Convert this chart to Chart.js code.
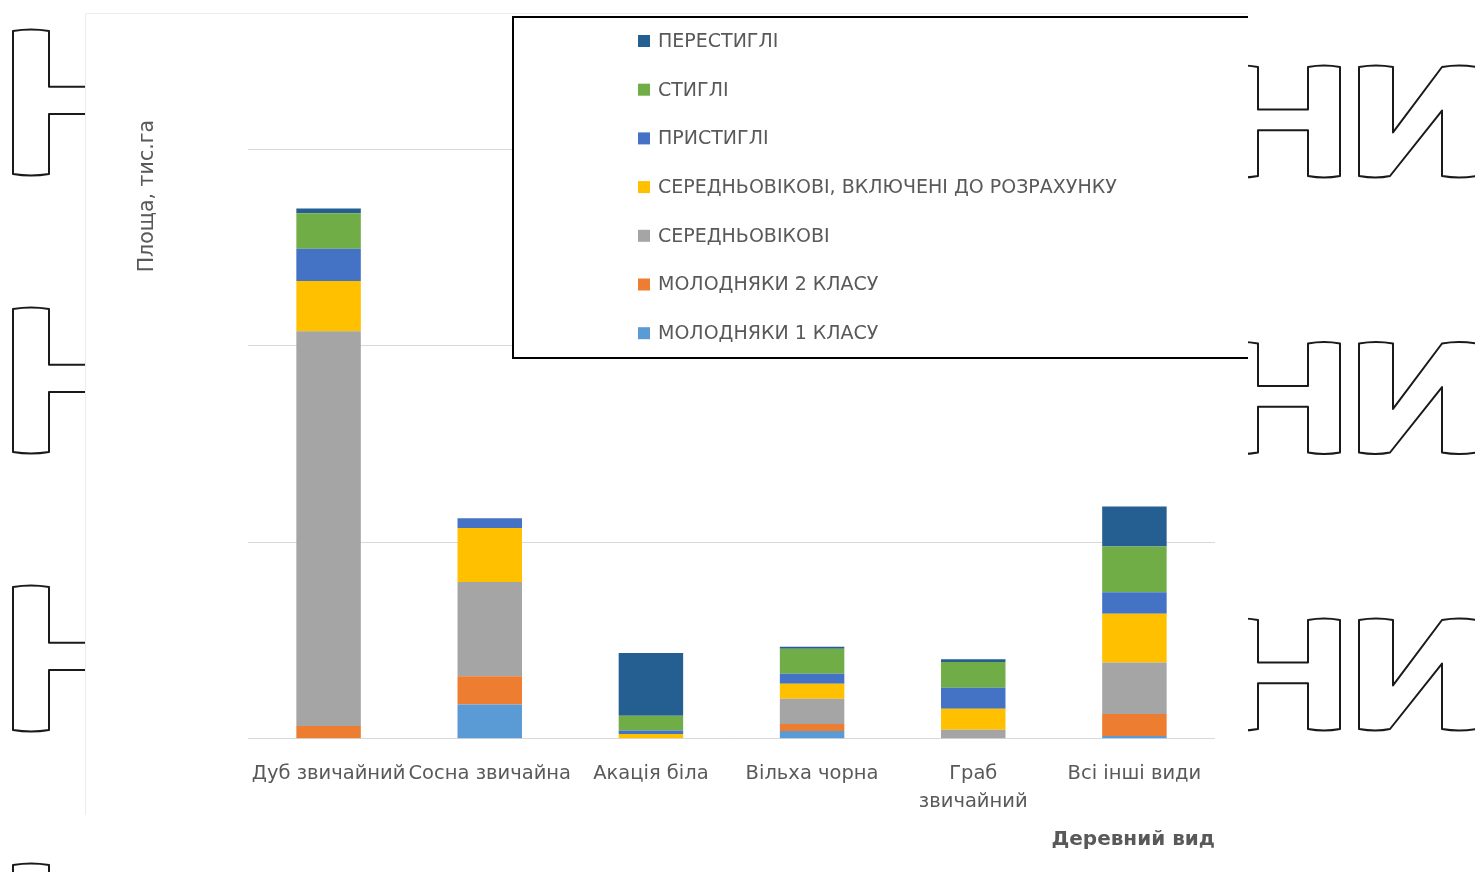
<!DOCTYPE html>
<html>
<head>
<meta charset="utf-8">
<title>Площа за деревними видами</title>
<script src="https://cdn.jsdelivr.net/npm/chart.js@4.4.1/dist/chart.umd.min.js"></script>
<style>
  html, body { margin: 0; padding: 0; background: #fff; }
  canvas { display: block; }
</style>
</head>
<body>
<canvas id="areaChart" width="1475" height="872"></canvas>
<script>
// деревні види
const categories = ['Дуб звичайний', 'Сосна звичайна', 'Акація біла', 'Вільха чорна', ['Граб', 'звичайний'], 'Всі інші види'];

// групи віку, знизу вгору
const molodniaky1 = [0, 1.75, 0, 0.4, 0, 0.15];
const molodniaky2 = [0.65, 1.43, 0, 0.36, 0, 1.12];
const serednovikovi = [20.1, 4.8, 0, 1.28, 0.46, 2.62];
const serednovikoviVkl = [2.55, 2.75, 0.25, 0.77, 1.07, 2.48];
const prystyhli = [1.65, 0.5, 0.18, 0.5, 1.07, 1.09];
const styhli = [1.8, 0, 0.74, 1.28, 1.31, 2.33];
const perestyhli = [0.25, 0, 3.2, 0.1, 0.14, 2.04];

const yStep = 10;
const yMax = 31.5;

const textGrey = '#595959';
const gridGrey = '#d9d9d9';
const fontFamily = '"DejaVu Sans", "Liberation Sans", Arial, sans-serif';

// контурні літери на тлі
function outlineN(ctx, x, top, h, stem, gap) {
    const b = top + h, c1 = top + h * 0.39, c2 = top + h * 0.58;
    ctx.beginPath();
    ctx.moveTo(x, top);
    ctx.quadraticCurveTo(x + stem / 2, top - 3, x + stem, top);
    ctx.lineTo(x + stem, c1);
    ctx.lineTo(x + stem + gap, c1);
    ctx.lineTo(x + stem + gap, top);
    ctx.quadraticCurveTo(x + stem * 1.5 + gap, top - 3, x + 2 * stem + gap, top);
    ctx.lineTo(x + 2 * stem + gap, b);
    ctx.quadraticCurveTo(x + stem * 1.5 + gap, b + 3, x + stem + gap, b);
    ctx.lineTo(x + stem + gap, c2);
    ctx.lineTo(x + stem, c2);
    ctx.lineTo(x + stem, b);
    ctx.quadraticCurveTo(x + stem / 2, b + 3, x, b);
    ctx.closePath();
    ctx.stroke();
}

function outlineI(ctx, x, top, h, stem, gap) {
    const b = top + h;
    ctx.beginPath();
    ctx.moveTo(x, top);
    ctx.quadraticCurveTo(x + stem / 2, top - 3, x + stem, top);
    ctx.lineTo(x + stem, top + h * 0.6);
    ctx.lineTo(x + stem + gap, top);
    ctx.quadraticCurveTo(x + stem * 1.5 + gap, top - 3, x + 2 * stem + gap, top);
    ctx.lineTo(x + 2 * stem + gap, b);
    ctx.quadraticCurveTo(x + stem * 1.5 + gap, b + 3, x + stem + gap, b);
    ctx.lineTo(x + stem + gap, top + h * 0.4);
    ctx.lineTo(x + stem - 3, b);
    ctx.quadraticCurveTo(x + stem / 2, b + 3, x, b);
    ctx.closePath();
    ctx.stroke();
}

const backdrop = {
    id: 'backdrop',
    beforeDraw(chart) {
        const ctx = chart.ctx;
        ctx.save();
        ctx.fillStyle = '#fff';
        ctx.fillRect(0, 0, chart.width, chart.height);
        ctx.strokeStyle = '#1a1a1a';
        ctx.lineWidth = 2;
        ctx.lineJoin = 'round';
        ctx.save();
        ctx.beginPath();
        ctx.rect(0, 0, 85, chart.height);
        ctx.clip();
        [31, 309, 587, 865].forEach(t => outlineN(ctx, 13, t, 143, 36, 60));
        ctx.restore();
        [67, 343.5, 620].forEach(t => {
            outlineN(ctx, 1226, t, 109, 32, 50);
            outlineI(ctx, 1359, t, 109, 34, 49);
        });
        // біла підкладка діаграми
        ctx.fillStyle = '#fff';
        ctx.fillRect(85, 13, 1163, 802);
        ctx.strokeStyle = '#ececec';
        ctx.lineWidth = 1;
        ctx.beginPath();
        ctx.moveTo(85.5, 815);
        ctx.lineTo(85.5, 13.5);
        ctx.lineTo(1248, 13.5);
        ctx.stroke();
        ctx.restore();
    }
};

// легенда в рамці, верхній ряд — верхній сегмент стовпця
const boxLegend = {
    id: 'boxLegend',
    afterDraw(chart) {
        const ctx = chart.ctx;
        const left = 513, top = 17, right = 1248, bottom = 358;
        ctx.save();
        ctx.fillStyle = '#fff';
        ctx.fillRect(left, top, right - left, bottom - top);
        ctx.strokeStyle = '#000';
        ctx.lineWidth = 2;
        ctx.beginPath();
        ctx.moveTo(right, top);
        ctx.lineTo(left, top);
        ctx.lineTo(left, bottom);
        ctx.lineTo(right, bottom);
        ctx.stroke();
        ctx.font = '19px ' + fontFamily;
        ctx.textBaseline = 'middle';
        const sets = chart.data.datasets.slice().reverse();
        sets.forEach((ds, i) => {
            const y = 41 + i * 48.7;
            ctx.fillStyle = ds.backgroundColor;
            ctx.fillRect(638, y - 6, 12, 12);
            ctx.fillStyle = textGrey;
            ctx.fillText(ds.label, 658, y + 1);
        });
        ctx.restore();
    }
};

const ctx = document.getElementById('areaChart').getContext('2d');
const areaChart = new Chart(ctx, {
    type: 'bar',
    data: {
        labels: categories,
        datasets: [
            { label: 'МОЛОДНЯКИ 1 КЛАСУ', data: molodniaky1, backgroundColor: '#5B9BD5' },
            { label: 'МОЛОДНЯКИ 2 КЛАСУ', data: molodniaky2, backgroundColor: '#ED7D31' },
            { label: 'СЕРЕДНЬОВІКОВІ', data: serednovikovi, backgroundColor: '#A5A5A5' },
            { label: 'СЕРЕДНЬОВІКОВІ, ВКЛЮЧЕНІ ДО РОЗРАХУНКУ', data: serednovikoviVkl, backgroundColor: '#FFC000' },
            { label: 'ПРИСТИГЛІ', data: prystyhli, backgroundColor: '#4472C4' },
            { label: 'СТИГЛІ', data: styhli, backgroundColor: '#70AD47' },
            { label: 'ПЕРЕСТИГЛІ', data: perestyhli, backgroundColor: '#255E91' }
        ]
    },
    options: {
        responsive: false,
        animation: false,
        devicePixelRatio: 1,
        layout: { padding: { top: 120, right: 260, bottom: 20, left: 120 } },
        datasets: { bar: { categoryPercentage: 0.8, barPercentage: 0.5, borderWidth: 0 } },
        plugins: {
            legend: { display: false },
            tooltip: { enabled: false }
        },
        scales: {
            x: {
                stacked: true,
                grid: { display: false, drawTicks: false },
                border: { display: false },
                ticks: {
                    color: textGrey,
                    padding: 21,
                    maxRotation: 0,
                    autoSkip: false,
                    font: { family: fontFamily, size: 19.5, lineHeight: 1.44 }
                },
                title: {
                    display: true,
                    text: 'Деревний вид',
                    align: 'end',
                    color: textGrey,
                    padding: { top: -9, bottom: 0 },
                    font: { family: fontFamily, size: 20, weight: 'bold', lineHeight: 1.2 }
                }
            },
            y: {
                stacked: true,
                min: 0,
                max: yMax,
                afterBuildTicks: scale => {
                    scale.ticks = scale.ticks.filter(t => t.value % yStep === 0);
                },
                ticks: { display: false, stepSize: yStep },
                grid: { color: gridGrey, lineWidth: 1, drawTicks: false },
                border: { display: false },
                title: {
                    display: true,
                    text: 'Площа, тис.га',
                    align: 'end',
                    color: textGrey,
                    padding: { top: 15, bottom: 88.4 },
                    font: { family: fontFamily, size: 20.5, lineHeight: 1.2 }
                }
            }
        }
    },
    plugins: [backdrop, boxLegend]
});
</script>
</body>
</html>
